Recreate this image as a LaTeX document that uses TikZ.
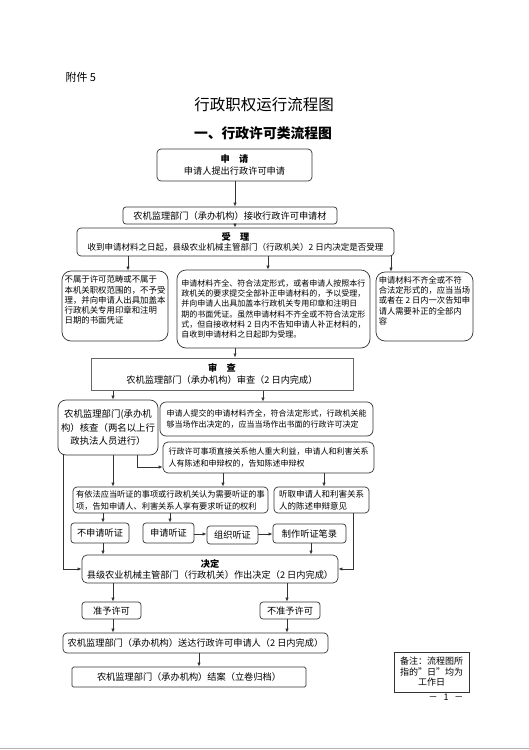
\documentclass[tikz,border=0pt]{standalone}
\usepackage{fontspec}
\setmainfont{Noto Sans CJK SC}
\usetikzlibrary{arrows.meta,calc}
\definecolor{linec}{HTML}{333333}
\begin{document}
\begin{tikzpicture}[x=1pt,y=-1pt,
  box/.style={draw=linec, line width=0.7pt, rounded corners=4pt, inner sep=0pt, align=center, font=\fontsize{9.2}{12}\selectfont},
  rbox/.style={box, rounded corners=9pt, align=left, font=\fontsize{8}{10.3}\selectfont},
  tbox/.style={box, align=left, font=\fontsize{8}{12}\selectfont},
  arr/.style={-{Latex[length=4pt,width=3.2pt]}, draw=linec, line width=0.6pt}]
\useasboundingbox (0,0) rectangle (529,750);
\fill[white] (0,0) rectangle (529,750);

% titles
\node[anchor=west, font=\fontsize{11}{13}\selectfont] (fj) at (62,77) {附件 5};
\node[font=\fontsize{15.5}{18}\selectfont] (t1) at (264,105) {行政职权运行流程图};
\node[font=\fontsize{13.8}{16}\selectfont\bfseries] (t2) at (263,133) {一、行政许可类流程图};

% boxes
\node[box, minimum width=155, minimum height=32] (b1) at (234.5,165) {{\bfseries 申\quad 请}\\申请人提出行政许可申请};
\node[box, rounded corners=3pt, minimum width=214, minimum height=17] (b2) at (230,215.5) {农机监理部门（承办机构）接收行政许可申请材};
\node[box, font=\fontsize{8.5}{10.5}\selectfont, minimum width=317, minimum height=28] (b3) at (235.5,242) {{\fontsize{9.2}{10.5}\selectfont\bfseries 受\quad 理}\\收到申请材料之日起，县级农业机械主管部门（行政机关）2 日内决定是否受理};
\node[rbox, minimum width=106, minimum height=70, font=\fontsize{8.4}{10.3}\selectfont] (b4) at (115,306) {不属于许可范畴或不属于\\本机关职权范围的，不予受\\理，并向申请人出具加盖本\\行政机关专用印章和注明\\日期的书面凭证\\[2pt]};
\node[rbox, minimum width=193, minimum height=78] (b5) at (273.5,309) {申请材料齐全、符合法定形式，或者申请人按照本行\\政机关的要求提交全部补正申请材料的，予以受理，\\并向申请人出具加盖本行政机关专用印章和注明日\\期的书面凭证。虽然申请材料不齐全或不符合法定形\\式，但自接收材料 2 日内不告知申请人补正材料的，\\自收到申请材料之日起即为受理。};
\node[rbox, minimum width=97, minimum height=69, font=\fontsize{8.3}{10.3}\selectfont] (b6) at (424.5,306.5) {申请材料不齐全或不符\\合法定形式的，应当当场\\或者在 2 日内一次告知申\\请人需要补正的全部内\\容\\[2pt]};
\node[box, rounded corners=0pt, draw=gray!80!black, line width=1pt, minimum width=262, minimum height=32] (b7) at (222,374) {{\bfseries 审\quad 查}\\农机监理部门（承办机构）审查（2 日内完成）};
\node[box, rounded corners=8pt, font=\fontsize{9.4}{13.5}\selectfont, minimum width=100, minimum height=55] (b8) at (108,427.5) {农机监理部门(承办机\\构）核查（两名以上行\\政执法人员进行）};
\node[tbox, rounded corners=6pt, font=\fontsize{8}{10.5}\selectfont, minimum width=213, minimum height=34] (b9) at (266.5,419) {申请人提交的申请材料齐全，符合法定形式，行政机关能\\够当场作出决定的，应当当场作出书面的行政许可决定};
\node[tbox, rounded corners=5pt, minimum width=211, minimum height=31] (b10) at (268.5,457.5) {行政许可事项直接关系他人重大利益，申请人和利害关系\\人有陈述和申辩权的，告知陈述申辩权};
\node[tbox, font=\fontsize{8.2}{12}\selectfont, minimum width=195, minimum height=26] (b11) at (170.5,500) {有依法应当听证的事项或行政机关认为需要听证的事\\项，告知申请人、利害关系人享有要求听证的权利};
\node[tbox, font=\fontsize{8.5}{12.5}\selectfont, minimum width=95, minimum height=26] (b12) at (321.5,500) {听取申请人和利害关系\\人的陈述申辩意见};
\node[box, rounded corners=3pt, minimum width=58, minimum height=20] (b14) at (100,533) {不申请听证};
\node[box, rounded corners=3pt, minimum width=51, minimum height=20] (b15) at (168.5,533) {申请听证};
\node[box, rounded corners=3pt, minimum width=51, minimum height=18] (b16) at (232.5,535) {组织听证};
\node[box, rounded corners=3pt, minimum width=73, minimum height=19] (b17) at (309.5,533.5) {制作听证笔录};
\node[box, rounded corners=5pt, font=\fontsize{9.2}{11}\selectfont, minimum width=256, minimum height=28] (b13) at (210,569) {{\bfseries 决定}\\县级农业机械主管部门（行政机关）作出决定（2 日内完成）};
\node[box, rounded corners=3pt, minimum width=59, minimum height=17] (b18) at (111.5,610.5) {准予许可};
\node[box, rounded corners=3pt, minimum width=60, minimum height=17] (b19) at (290,610.5) {不准予许可};
\node[box, rounded corners=4pt, minimum width=265, minimum height=20] (b20) at (195.5,643) {农机监理部门（承办机构）送达行政许可申请人（2 日内完成）};
\node[box, rounded corners=1.5pt, minimum width=234, minimum height=20] (b21) at (189,677) {农机监理部门（承办机构）结案（立卷归档）};
\node[box, rounded corners=0pt, font=\fontsize{9}{10.5}\selectfont, minimum width=75, minimum height=40] (b22) at (431.5,672) {备注：流程图所\\指的"日"均为\\工作日};
\node[font=\fontsize{9}{11}\selectfont] (pg) at (446,697) {－\hspace{6pt}1\hspace{6pt}－};
\draw[gray!60, line width=0.8pt] (0,748.5) -- (529,748.5);

% x / y reference coordinates
\coordinate (cA) at (235,0);
\coordinate (c128) at (128,0);
\coordinate (c268) at (268,0);
\coordinate (c391) at (391,0);
\coordinate (c113) at (113,0);
\coordinate (c263) at (263,0);
\coordinate (c137) at (137,0);
\coordinate (c223) at (223,0);
\coordinate (c324) at (324,0);
\coordinate (c63) at (63,0);
\coordinate (c353) at (353,0);
\coordinate (c103) at (103,0);
\coordinate (c170) at (170,0);
\coordinate (c311) at (311,0);
\coordinate (c287) at (287,0);
\coordinate (c199) at (199,0);
\coordinate (k467) at (0,467);
\coordinate (k534) at (0,534);

% connectors
\draw[arr] (b1.south -| cA) -- (b2.north -| cA);
\draw[arr] (b2.south -| cA) -- (b3.north -| cA);
\draw[arr] (b3.south -| c128) -- (b4.north -| c128);
\draw[arr] (b3.south -| c268) -- (b5.north -| c268);
\draw[arr] (b3.south -| c391) -- (b6.north -| c391);
\draw[arr] (b5.south -| cA) -- (b7.north -| cA);
\draw[arr] (b7.south -| c113) -- (b8.north -| c113);
\draw[arr] (b7.south -| c263) -- (b9.north -| c263);
\draw[arr] (b8.south -| c137) |- (b10.west |- k467);
\draw[arr] (b8.south -| c113) -- (b11.north -| c113);
\draw[arr] (b10.south -| c223) -- (b11.north -| c223);
\draw[arr] (b10.south -| c324) -- (b12.north -| c324);
\draw[arr] (b8.south -| c63) |- (b13.west);
\draw[arr] (b12.south -| c353) |- (b13.east);
\draw[arr] (b11.south -| c103) -- (b14.north -| c103);
\draw[arr] (b11.south -| c170) -- (b15.north -| c170);
\draw[arr] (b15.east |- k534) -- (b16.west |- k534);
\draw[arr] (b16.east |- k534) -- (b17.west |- k534);
\draw[arr] (b14.south -| c103) -- (b13.north -| c103);
\draw[arr] (b17.south -| c311) -- (b13.north -| c311);
\draw[arr] (b13.south -| c113) -- (b18.north -| c113);
\draw[arr] (b13.south -| c287) -- (b19.north -| c287);
\draw[arr] (b18.south -| c113) -- (b20.north -| c113);
\draw[arr] (b19.south -| c287) -- (b20.north -| c287);
\draw[arr] (b20.south -| c199) -- (b21.north -| c199);
\end{tikzpicture}
\end{document}
